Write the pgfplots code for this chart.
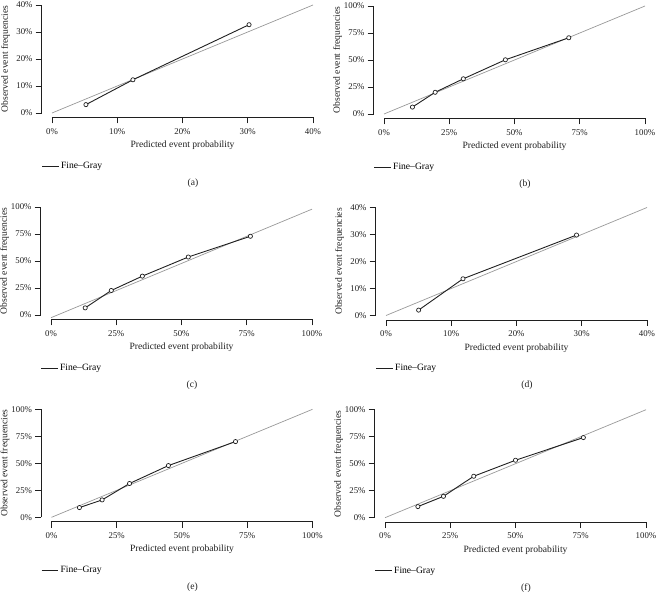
\documentclass[border=0pt]{standalone}
\usepackage{fontspec}
\setmainfont{Liberation Serif}
\usepackage{pgfplots}
\pgfplotsset{compat=1.18}
\usetikzlibrary{calc}

\definecolor{diag}{gray}{0.6}
\definecolor{ink}{gray}{0.12}

% shared look of the six calibration panels (R base-graphics style)
\pgfplotsset{
  every axis/.append style={
    scale only axis, width=281.88pt, height=116.64pt,
    anchor=south west,
    axis lines*=left, axis line style={draw=none},
    tick align=outside, major tick length=6pt,
    tick style={ink, line width=0.6pt},
    clip=false,
    font=\fontsize{9.6}{11}\selectfont,
    tick label style={text=ink, font=\fontsize{8.8}{10}\selectfont},
    xticklabel style={yshift=-1.5pt},
    yticklabel style={xshift=0.5pt},
    xticklabel={\pgfmathprintnumber[assume math mode=true]{\tick}\%},
    yticklabel={\pgfmathprintnumber[assume math mode=true]{\tick}\%},
    legend style={at={(axis description cs:0,0)}, anchor=west, yshift=-48.7pt,
      draw=none, fill=none, inner sep=0pt, outer sep=0pt},
    legend cell align=left,
    legend image code/.code={\draw[#1] (0pt,0pt) -- (16.7pt,0pt);},
    extra description/.code={
      \draw[ink, line width=0.6pt] (axis description cs:0.037037,0) -- (axis description cs:0.962963,0);
      \draw[ink, line width=0.6pt] (axis description cs:0,0.037037) -- (axis description cs:0,0.962963);
      \node[text=ink] at ($(axis description cs:0.5,0)+(0,-28pt)$) {Predicted event probability};
      \node[text=ink, rotate=90] at ($(axis description cs:0,0.5)+(-36pt,0)$) {Observed event frequencies};
    },
  },
  range40/.style={xmin=-1.6, xmax=41.6, ymin=-1.6, ymax=41.6,
    xtick={0,10,20,30,40}, ytick={0,10,20,30,40}},
  range100/.style={xmin=-4, xmax=104, ymin=-4, ymax=104,
    xtick={0,25,50,75,100}, ytick={0,25,50,75,100}},
  diagline/.style={diag, line width=0.7pt, forget plot},
  calline/.style={ink, line width=0.9pt, mark=*, mark size=2.1pt,
    mark options={fill=white, line width=0.7pt}, forget plot},
}

\begin{document}
\begin{tikzpicture}
\useasboundingbox (0,0) rectangle (656pt,-597pt);

% (a)
\begin{axis}[range40, at={(41.56pt,-117.32pt)}]
\addplot[diagline] coordinates {(0,0) (40,40)};
\addplot[calline] coordinates {(5.2,3.1) (12.4,12.3) (30.2,32.7)};
\addlegendimage{ink, line width=0.9pt}
\addlegendentry{Fine--Gray}
\node[text=ink] at ($(axis description cs:0.5,0)+(0,-70pt)$) {(a)};
\end{axis}

% (b)
\begin{axis}[range100, at={(373.56pt,-118.32pt)}]
\addplot[diagline] coordinates {(0,0) (100,100)};
\addplot[calline] coordinates {(10.9,6.4) (19.6,20.1) (30.4,32.6) (46.5,50.2) (70.8,70.6)};
\addlegendimage{ink, line width=0.9pt}
\addlegendentry{Fine--Gray}
\node[text=ink] at ($(axis description cs:0.5,0)+(0,-70pt)$) {(b)};
\end{axis}

% (c)
\begin{axis}[range100, at={(40.56pt,-319.32pt)}]
\addplot[diagline] coordinates {(0,-2.5) (100,98)};
\addplot[calline] coordinates {(13.1,6.6) (23.1,22.7) (35.0,36.0) (52.6,53.7) (76.4,72.9)};
\addlegendimage{ink, line width=0.9pt}
\addlegendentry{Fine--Gray}
\node[text=ink] at ($(axis description cs:0.5,0)+(0,-70pt)$) {(c)};
\end{axis}

% (d)
\begin{axis}[range40, at={(375.56pt,-319.82pt)}]
\addplot[diagline] coordinates {(0,0) (40,40)};
\addplot[calline] coordinates {(5.0,2.0) (11.8,13.6) (29.2,29.8)};
\addlegendimage{ink, line width=0.9pt}
\addlegendentry{Fine--Gray}
\node[text=ink] at ($(axis description cs:0.5,0)+(0,-70pt)$) {(d)};
\end{axis}

% (e)
\begin{axis}[range100, at={(41.06pt,-521.62pt)}]
\addplot[diagline] coordinates {(0,0) (100,100)};
\addplot[calline] coordinates {(10.7,9.0) (19.4,16.1) (29.9,31.3) (44.8,47.9) (70.5,70.1)};
\addlegendimage{ink, line width=0.9pt}
\addlegendentry{Fine--Gray}
\node[text=ink] at ($(axis description cs:0.5,0)+(0,-70pt)$) {(e)};
\end{axis}

% (f)
\begin{axis}[range100, at={(374.56pt,-522.02pt)}]
\addplot[diagline] coordinates {(0,0) (100,100)};
\addplot[calline] coordinates {(12.6,10.3) (22.4,19.8) (34.0,38.4) (50.0,53.2) (76.0,74.2)};
\addlegendimage{ink, line width=0.9pt}
\addlegendentry{Fine--Gray}
\node[text=ink] at ($(axis description cs:0.5,0)+(0,-70pt)$) {(f)};
\end{axis}
\end{tikzpicture}
\end{document}
